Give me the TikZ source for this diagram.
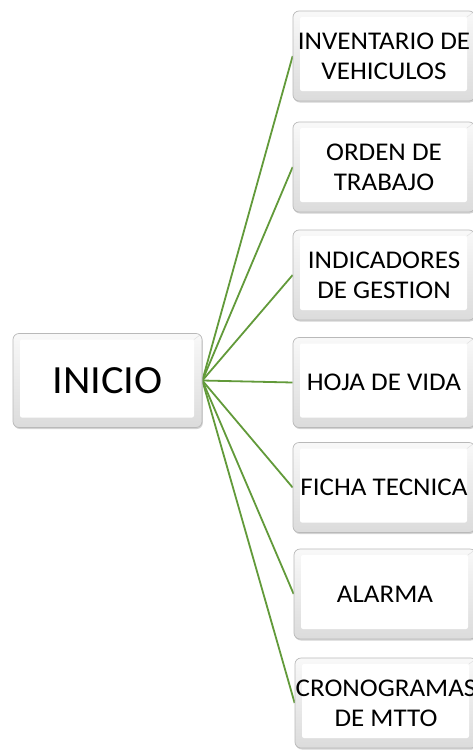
\documentclass[tikz,border=0pt]{standalone}
\usepackage{fontspec}
\setmainfont[FakeStretch=1.06]{Carlito}
\usetikzlibrary{shadows,backgrounds}
\definecolor{linkgreen}{RGB}{98,154,58}
\tikzset{
  bevelbox/.style={draw=gray!55, line width=0.7pt, rounded corners=6pt,
    top color=gray!5, bottom color=gray!28, align=center, inner sep=0pt,
    drop shadow={shadow xshift=0.8pt, shadow yshift=-1.5pt, opacity=0.35},
    path picture={
      \fill[white, rounded corners=2pt]
        ([shift={(7pt,-6pt)}]path picture bounding box.north west) rectangle
        ([shift={(-8pt,10pt)}]path picture bounding box.south east);
      \draw[gray!25, line width=0.5pt]
        (path picture bounding box.south west) -- ([shift={(7pt,10pt)}]path picture bounding box.south west)
        (path picture bounding box.south east) -- ([shift={(-8pt,10pt)}]path picture bounding box.south east)
        (path picture bounding box.north east) -- ([shift={(-8pt,-6pt)}]path picture bounding box.north east);
    }},
  rbox/.style={bevelbox, minimum width=182pt, minimum height=90pt, font=\fontsize{25.5pt}{30pt}\selectfont},
  lbox/.style={bevelbox, minimum width=189pt, minimum height=94pt, font=\fontsize{40pt}{44pt}\selectfont},
  link/.style={draw=linkgreen, line width=1.8pt}
}
\begin{document}
\begin{tikzpicture}[x=1pt,y=1pt]
\useasboundingbox (0,0) rectangle (472,-750);
\node[lbox] (inicio) at (107.5,-380.5) {INICIO};
\node[rbox] (b1) at (384,-56) {INVENTARIO DE\\VEHICULOS};
\node[rbox] (b2) at (384,-167) {ORDEN DE\\TRABAJO};
\node[rbox] (b3) at (384,-275) {INDICADORES\\DE GESTION};
\node[rbox] (b4) at (384,-382.5) {HOJA DE VIDA};
\node[rbox] (b5) at (384,-487.5) {FICHA TECNICA};
\node[rbox] (b6) at (385,-594) {ALARMA};
\node[rbox] (b7) at (386,-703) {CRONOGRAMAS\\DE MTTO};
\begin{scope}[on background layer]
\foreach \b in {b1,b2,b3,b4,b5,b6,b7}
  \draw[link] (inicio.east) -- (\b.west);
\end{scope}
\end{tikzpicture}
\end{document}
